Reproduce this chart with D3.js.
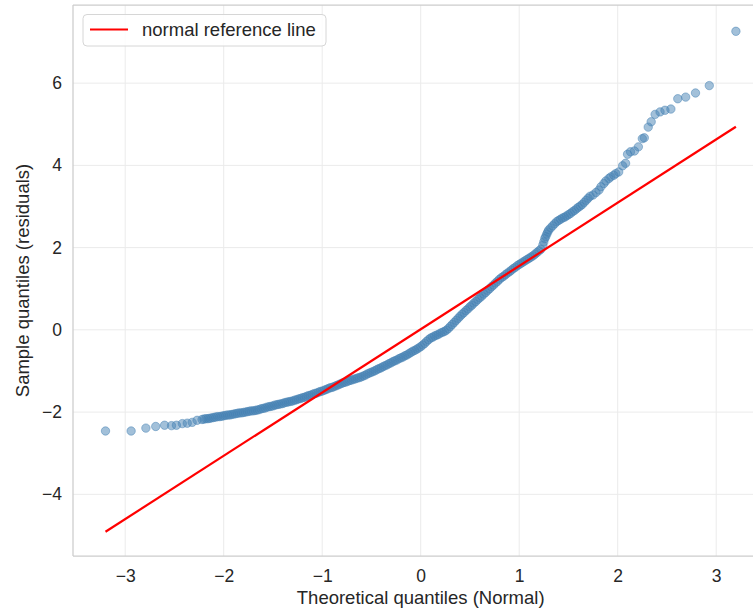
<!DOCTYPE html>
<html>
<head>
<meta charset="utf-8">
<script src="https://cdn.jsdelivr.net/npm/d3@7"></script>
<style>
  html, body { margin: 0; padding: 0; background: #ffffff; }
  svg { display: block; }
  text { font-family: "Liberation Sans", Arial, Helvetica, sans-serif; fill: #262626; }
</style>
</head>
<body>
<svg id="chart" width="753" height="610"></svg>
<script>
// ---------------- data ----------------
const xTicks = [-3, -2, -1, 0, 1, 2, 3];
const yTicks = [-4, -2, 0, 2, 4, 6];
const xLabel = "Theoretical quantiles (Normal)";
const yLabel = "Sample quantiles (residuals)";
const legendLabel = "normal reference line";

// reference line endpoints (theoretical, sample)
const refLineX = [-3.20, 3.20];
const refLineY = [-4.91, 4.94];

// theoretical quantiles of the plotted points
const theoreticalQ = [
  -3.20,-2.94,-2.79,-2.69,-2.60,-2.53,-2.48,-2.42,-2.37,-2.32,-2.27,
  -2.22,-2.20,-2.18,-2.16,-2.14,-2.12,-2.10,-2.08,-2.06,-2.04,
  -2.02,-2.00,-1.98,-1.96,-1.94,-1.92,-1.90,-1.88,-1.86,-1.84,
  -1.82,-1.80,-1.78,-1.76,-1.74,-1.72,-1.70,-1.68,-1.66,-1.64,
  -1.62,-1.60,-1.58,-1.56,-1.54,-1.52,-1.50,-1.48,-1.46,-1.44,
  -1.42,-1.40,-1.38,-1.36,-1.34,-1.32,-1.30,-1.28,-1.26,-1.24,
  -1.22,-1.20,-1.18,-1.16,-1.14,-1.12,-1.10,-1.08,-1.06,-1.04,
  -1.02,-1.00,-0.98,-0.96,-0.94,-0.92,-0.90,-0.88,-0.86,-0.84,
  -0.82,-0.80,-0.78,-0.76,-0.74,-0.72,-0.70,-0.68,-0.66,-0.64,
  -0.62,-0.60,-0.58,-0.56,-0.54,-0.52,-0.50,-0.48,-0.46,-0.44,
  -0.42,-0.40,-0.38,-0.36,-0.34,-0.32,-0.30,-0.28,-0.26,-0.24,
  -0.22,-0.20,-0.18,-0.16,-0.14,-0.12,-0.10,-0.08,-0.06,-0.04,
  -0.02,0.00,0.02,0.04,0.06,0.08,0.10,0.12,0.14,0.16,
  0.18,0.20,0.22,0.24,0.26,0.28,0.30,0.32,0.34,0.36,
  0.38,0.40,0.42,0.44,0.46,0.48,0.50,0.52,0.54,0.56,
  0.58,0.60,0.62,0.64,0.66,0.68,0.70,0.72,0.74,0.76,
  0.78,0.80,0.82,0.84,0.86,0.88,0.90,0.92,0.94,0.96,
  0.98,1.00,1.02,1.04,1.06,1.08,1.10,1.12,1.14,1.16,
  1.18,1.20,1.22,1.24,1.25,1.26,1.27,1.28,1.29,1.30,
  1.32,1.34,1.36,1.38,1.40,1.42,1.44,1.46,1.48,1.50,
  1.52,1.54,1.56,1.58,1.60,1.62,1.64,1.66,1.68,1.70,1.72,
  1.75,1.78,1.81,1.83,1.86,1.88,1.91,1.93,1.96,1.98,
  2.01,2.05,2.08,2.10,2.13,2.17,2.21,2.25,2.27,2.31,
  2.34,2.38,2.43,2.48,2.54,2.61,2.69,2.79,2.93,3.20
];

// sample quantiles (residuals) of the plotted points
const sampleQ = [
  -2.46,-2.46,-2.39,-2.35,-2.32,-2.33,-2.32,-2.28,-2.27,-2.25,-2.20,
  -2.18,-2.17,-2.16,-2.16,-2.15,-2.14,-2.13,-2.12,-2.11,-2.11,
  -2.10,-2.09,-2.08,-2.07,-2.07,-2.06,-2.05,-2.04,-2.03,-2.02,
  -2.02,-2.01,-2.00,-1.99,-1.98,-1.97,-1.97,-1.96,-1.95,-1.94,
  -1.92,-1.91,-1.90,-1.88,-1.87,-1.86,-1.85,-1.83,-1.82,-1.81,
  -1.80,-1.79,-1.77,-1.76,-1.75,-1.74,-1.73,-1.71,-1.70,-1.68,
  -1.67,-1.65,-1.64,-1.62,-1.60,-1.59,-1.57,-1.55,-1.54,-1.52,
  -1.50,-1.49,-1.47,-1.45,-1.43,-1.41,-1.40,-1.38,-1.36,-1.34,
  -1.32,-1.30,-1.28,-1.27,-1.25,-1.23,-1.22,-1.20,-1.19,-1.17,
  -1.16,-1.14,-1.12,-1.10,-1.07,-1.05,-1.03,-1.01,-0.99,-0.96,
  -0.94,-0.92,-0.89,-0.87,-0.85,-0.82,-0.80,-0.77,-0.75,-0.73,
  -0.70,-0.68,-0.66,-0.63,-0.61,-0.58,-0.55,-0.52,-0.50,-0.47,
  -0.44,-0.41,-0.37,-0.33,-0.28,-0.24,-0.20,-0.18,-0.15,-0.13,
  -0.11,-0.08,-0.06,-0.04,-0.01,0.03,0.08,0.13,0.18,0.23,
  0.28,0.33,0.38,0.42,0.47,0.51,0.56,0.60,0.65,0.69,
  0.74,0.78,0.82,0.87,0.91,0.96,1.00,1.05,1.09,1.14,
  1.18,1.23,1.27,1.30,1.34,1.38,1.41,1.45,1.49,1.52,
  1.56,1.59,1.62,1.65,1.68,1.71,1.74,1.77,1.80,1.84,
  1.88,1.92,1.96,2.06,2.14,2.22,2.27,2.33,2.38,2.43,
  2.48,2.53,2.58,2.63,2.66,2.69,2.72,2.74,2.77,2.80,
  2.83,2.87,2.90,2.94,2.98,3.01,3.05,3.10,3.15,3.20,3.25,
  3.28,3.34,3.40,3.48,3.56,3.62,3.68,3.72,3.76,3.80,
  3.84,3.99,4.05,4.27,4.33,4.35,4.45,4.65,4.67,4.93,
  5.06,5.24,5.30,5.34,5.37,5.62,5.66,5.76,5.94,7.26
];

// ---------------- layout ----------------
const W = 753, H = 610;
const plot = { left: 73, top: 5, right: 768.4, bottom: 556 };

const svg = d3.select("#chart");

const x = d3.scaleLinear().domain([-3.53, 3.53]).range([plot.left, plot.right]);
const y = d3.scaleLinear().domain([-5.50, 7.90]).range([plot.bottom, plot.top]);

const fmt = d3.format("d");

// grid
const grid = svg.append("g").attr("class", "grid");
grid.selectAll("line.gx").data(xTicks).join("line")
  .attr("class", "gx")
  .attr("x1", d => x(d)).attr("x2", d => x(d))
  .attr("y1", plot.top).attr("y2", plot.bottom)
  .attr("stroke", "#ebebeb").attr("stroke-width", 1);
grid.selectAll("line.gy").data(yTicks).join("line")
  .attr("class", "gy")
  .attr("x1", plot.left).attr("x2", plot.right)
  .attr("y1", d => y(d)).attr("y2", d => y(d))
  .attr("stroke", "#ebebeb").attr("stroke-width", 1);

// axes (no tick marks, labels only) via d3 axes
const xAxis = d3.axisBottom(x).tickValues(xTicks).tickFormat(fmt).tickSize(0).tickPadding(14);
const yAxis = d3.axisLeft(y).tickValues(yTicks).tickFormat(fmt).tickSize(0).tickPadding(11);

const gx = svg.append("g").attr("transform", `translate(0,${plot.bottom})`).call(xAxis);
const gy = svg.append("g").attr("transform", `translate(${plot.left},0)`).call(yAxis);
[gx, gy].forEach(g => {
  g.select(".domain").remove();
  g.selectAll("text")
    .style("font-family", '"Liberation Sans", Arial, sans-serif')
    .style("font-size", "17.5px")
    .attr("fill", "#262626");
});

// spines
const spines = svg.append("g");
spines.append("line").attr("x1", plot.left).attr("x2", plot.left)
  .attr("y1", plot.top).attr("y2", plot.bottom)
  .attr("stroke", "#cccccc").attr("stroke-width", 1.25);
spines.append("line").attr("x1", plot.left).attr("x2", plot.right)
  .attr("y1", plot.bottom).attr("y2", plot.bottom)
  .attr("stroke", "#cccccc").attr("stroke-width", 1.25);
spines.append("line").attr("x1", plot.left).attr("x2", plot.right)
  .attr("y1", plot.top).attr("y2", plot.top)
  .attr("stroke", "#cccccc").attr("stroke-width", 1.25);

// points
const pts = theoreticalQ.map((t, i) => ({ t, s: sampleQ[i] }));
svg.append("g").selectAll("circle").data(pts).join("circle")
  .attr("cx", d => x(d.t))
  .attr("cy", d => y(d.s))
  .attr("r", 4.2)
  .attr("fill", "steelblue")
  .attr("fill-opacity", 0.5)
  .attr("stroke", "steelblue")
  .attr("stroke-opacity", 0.5)
  .attr("stroke-width", 1);

// reference line
svg.append("line")
  .attr("x1", x(refLineX[0])).attr("y1", y(refLineY[0]))
  .attr("x2", x(refLineX[1])).attr("y2", y(refLineY[1]))
  .attr("stroke", "#ff0000").attr("stroke-width", 2.2);

// axis labels
svg.append("text")
  .attr("x", (plot.left + plot.right) / 2).attr("y", 604)
  .attr("text-anchor", "middle")
  .style("font-size", "18.5px")
  .text(xLabel);
svg.append("text")
  .attr("transform", `translate(29,${(plot.top + plot.bottom) / 2}) rotate(-90)`)
  .attr("text-anchor", "middle")
  .style("font-size", "18.5px")
  .text(yLabel);

// legend
const lg = svg.append("g");
lg.append("rect")
  .attr("x", 83).attr("y", 14.5).attr("width", 243).attr("height", 31.5)
  .attr("rx", 4).attr("ry", 4)
  .attr("fill", "#ffffff").attr("fill-opacity", 0.85)
  .attr("stroke", "#d6d6d6").attr("stroke-width", 1);
lg.append("line")
  .attr("x1", 90).attr("x2", 128).attr("y1", 29.5).attr("y2", 29.5)
  .attr("stroke", "#ff0000").attr("stroke-width", 2.2);
lg.append("text")
  .attr("x", 142).attr("y", 36)
  .style("font-size", "18.5px")
  .text(legendLabel);
</script>
</body>
</html>
